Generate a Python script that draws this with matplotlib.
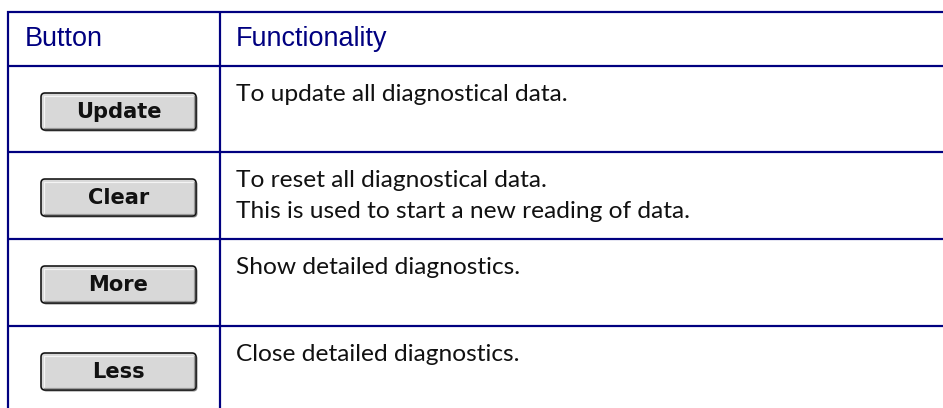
import matplotlib
matplotlib.use("Agg")
import matplotlib.pyplot as plt
from matplotlib.patches import FancyBboxPatch

headers = ["Button", "Functionality"]
buttons = ["Update", "Clear", "More", "Less"]
descriptions = [
    ["To update all diagnostical data."],
    ["To reset all diagnostical data.", "This is used to start a new reading of data."],
    ["Show detailed diagnostics."],
    ["Close detailed diagnostics."],
]

W, H = 943, 408
DPI = 100
fig = plt.figure(figsize=(W / DPI, H / DPI), dpi=DPI)
ax = fig.add_axes([0, 0, 1, 1])
ax.set_xlim(0, W)
ax.set_ylim(H, 0)
ax.axis("off")

navy = "#000080"
pt = 72 / DPI
lw = 2.2 * pt

left, mid = 8, 220
row_lines = [12, 66, 152, 239, 326]
bottom = H + 5

for y in row_lines:
    ax.plot([left - 1, W + 5], [y, y], color=navy, lw=lw, solid_capstyle="butt")
ax.plot([left, left], [row_lines[0] - 1, bottom], color=navy, lw=lw, solid_capstyle="butt")
ax.plot([mid, mid], [row_lines[0] - 1, bottom], color=navy, lw=lw, solid_capstyle="butt")

# header
hb = 46
ax.text(25, hb, headers[0], color=navy, fontsize=27 * pt, family="Liberation Sans",
        va="baseline", ha="left")
ax.text(236, hb, headers[1], color=navy, fontsize=27 * pt, family="Liberation Sans",
        va="baseline", ha="left")

row_tops = row_lines[1:]
for i, (b, d) in enumerate(zip(buttons, descriptions)):
    top = row_tops[i]
    bx0, bx1 = 41, 196
    by0, by1 = top + 27, top + 64
    ax.add_patch(FancyBboxPatch((bx0 + 1.5, by0 + 1.5), bx1 - bx0, by1 - by0,
                                boxstyle="round,pad=0,rounding_size=4",
                                fc="#8a8a8a", ec="none", zorder=2))
    ax.add_patch(FancyBboxPatch((bx0, by0), bx1 - bx0, by1 - by0,
                                boxstyle="round,pad=0,rounding_size=4",
                                fc="#d8d8d8", ec="#111111", lw=1.6 * pt, zorder=3))
    ax.plot([bx0 + 3, bx1 - 3], [by0 + 2.5, by0 + 2.5], color="#f4f4f4", lw=1.2 * pt, zorder=3.5)
    ax.plot([bx0 + 2.5, bx0 + 2.5], [by0 + 3, by1 - 3], color="#f4f4f4", lw=1.2 * pt, zorder=3.5)
    ax.plot([bx0 + 3, bx1 - 3], [by1 - 2.5, by1 - 2.5], color="#9a9a9a", lw=1.2 * pt, zorder=3.5)
    ax.plot([bx1 - 2.5, bx1 - 2.5], [by0 + 3, by1 - 3], color="#9a9a9a", lw=1.2 * pt, zorder=3.5)
    ax.text((bx0 + bx1) / 2, top + 52, b, fontsize=21 * pt, family="DejaVu Sans",
            weight="bold", ha="center", va="baseline", color="#111111", zorder=4)
    for j, line in enumerate(d):
        ax.text(236, top + 35 + 31 * j, line, fontsize=24.5 * pt, family="Lato",
                color="#111111", ha="left", va="baseline")

fig.savefig("out.png", dpi=DPI)
